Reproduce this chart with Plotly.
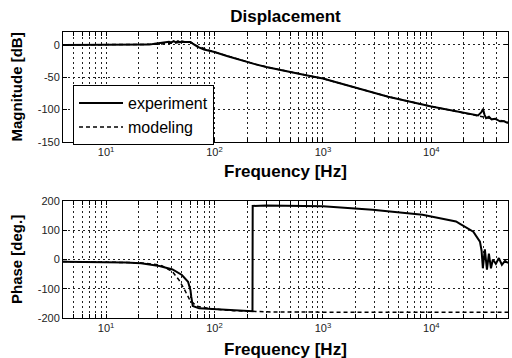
import math
import plotly.graph_objects as go

# ---------------- data ----------------
mag_exp_f = [4, 6, 10, 15, 20, 25, 28, 32, 36, 38, 40, 42, 44, 46, 48, 50, 53, 56, 60, 63, 70, 80,
             100, 130, 170, 240, 300, 484, 700, 1000, 2000, 4000, 10000, 15000, 20000, 24000, 27000,
             29000, 30000, 31000, 32000, 34000, 36000, 39000, 43000, 47000, 51000]
mag_exp_db = [0, 0, 0, 0, 0, 0.5, 2, 3, 3.5, 5, 4, 6, 4, 6, 4, 5.5, 4.5, 5, 4.5, 2, -3, -7,
              -11, -17, -23, -30, -34, -42, -47, -52, -66, -80, -95, -101, -105, -107, -109,
              -104, -99, -108, -113, -111, -115, -114, -118, -118, -121]

mag_mod_f = [4, 10, 20, 30, 40, 50, 58, 62, 70, 100, 130, 170, 240, 300, 500, 700, 1000, 2000,
             4000, 10000, 20000, 30000, 51000]
mag_mod_db = [0, 0, 0, 1, 2.5, 4, 5, 3, -2, -11, -17, -23, -30, -34, -42, -47, -52, -66,
              -80, -95, -105, -111, -119]

ph_exp_f = [4, 10, 15, 21, 31, 41, 50, 57, 60, 61, 63, 72, 128, 210, 224, 225, 300, 1000, 2870,
            8300, 16900, 18400, 21000, 24400, 28100, 29100, 29900, 31200, 32600, 34000, 35500,
            37000, 39400, 42000, 44800, 47800, 51000]
ph_exp_deg = [-8, -9, -10, -13, -22, -34, -53, -76, -105, -127, -159, -167, -172, -176, -177, 183,
              185, 182, 170, 153, 130, 122, 110, 95, 61, 30, -30, 35, -35, 20, -30,
              0, -15, 5, -18, -5, -12]

ph_mod_f = [4, 10, 20, 30, 33, 41, 47, 53, 59, 68, 90, 150, 300, 1000, 51000]
ph_mod_deg = [-7, -8, -11, -18, -22, -42, -70, -104, -138, -159, -168, -175, -179, -180, -180]

decades = [1, 2, 3, 4]
freq_range = [4, 51000]

# tick positions (log grid 1..9 x 10^n) and labels at decades
tickvals, ticktext = [], []
for n in range(0, 5):
    for k in range(1, 10):
        v = k * 10 ** n
        if freq_range[0] <= v <= freq_range[1]:
            tickvals.append(v)
            ticktext.append(f"10<sup>{n}</sup>" if (k == 1 and n in decades) else "")

FONT = "Liberation Sans, Arial, sans-serif"

fig = go.Figure()
fig.add_trace(go.Scatter(x=mag_exp_f, y=mag_exp_db, mode="lines", name="experiment",
                         line=dict(color="black", width=2), xaxis="x", yaxis="y"))
fig.add_trace(go.Scatter(x=mag_mod_f, y=mag_mod_db, mode="lines", name="modeling",
                         line=dict(color="black", width=1.5, dash="4px,3px"), xaxis="x", yaxis="y"))
fig.add_trace(go.Scatter(x=ph_exp_f, y=ph_exp_deg, mode="lines", showlegend=False,
                         line=dict(color="black", width=2), xaxis="x2", yaxis="y2"))
fig.add_trace(go.Scatter(x=ph_mod_f, y=ph_mod_deg, mode="lines", showlegend=False,
                         line=dict(color="black", width=1.5, dash="4px,3px"), xaxis="x2", yaxis="y2"))

xcommon = dict(type="log", range=[math.log10(freq_range[0]), math.log10(freq_range[1])],
               tickmode="array", tickvals=tickvals, ticktext=ticktext,
               ticks="inside", ticklen=4, tickcolor="black",
               showgrid=True, gridcolor="#222", griddash="2px,3px", gridwidth=1,
               showline=True, linecolor="black", linewidth=1, mirror="ticks",
               zeroline=False, tickfont=dict(family=FONT, size=11, color="#222"))
ycommon = dict(ticks="inside", ticklen=4, tickcolor="black",
               showgrid=True, gridcolor="#222", griddash="2px,3px", gridwidth=1,
               showline=True, linecolor="black", linewidth=1, mirror="ticks",
               zeroline=False, tickfont=dict(family=FONT, size=11, color="#222"))

fig.update_layout(
    width=512, height=358,
    margin=dict(l=63, r=4, t=32, b=40),
    paper_bgcolor="white", plot_bgcolor="white",
    font=dict(family=FONT, color="black"),
    xaxis=dict(domain=[0, 1], anchor="y", **xcommon),
    yaxis=dict(domain=[0.6154, 1], anchor="x", range=[-150, 20], tickvals=[-150, -100, -50, 0],
               ticktext=["-150", "-100", "-50", "0"], **ycommon),
    xaxis2=dict(domain=[0, 1], anchor="y2", **xcommon),
    yaxis2=dict(domain=[0, 0.4091], anchor="x2", range=[-200, 200],
                tickvals=[-200, -100, 0, 100, 200],
                ticktext=["-200", "-100", "0", "100", "200"], **ycommon),
    title=dict(text="<b>Displacement</b>", x=0.5, xref="paper", y=1 - 16 / 358, yref="container",
               xanchor="center", yanchor="middle", font=dict(family=FONT, size=17, color="black")),
    legend=dict(x=0.0225, y=0.814, xanchor="left", yanchor="top", bgcolor="white",
                bordercolor="black", borderwidth=1, font=dict(family=FONT, size=16, color="black"),
                tracegroupgap=0, itemwidth=44),
    showlegend=True,
)

ann_font = dict(family=FONT, size=17, color="black")
fig.add_annotation(text="<b>Frequency [Hz]</b>", xref="paper", yref="paper", x=0.5, y=0.6154,
                   yshift=-30, xanchor="center", yanchor="middle", showarrow=False, font=ann_font)
fig.add_annotation(text="<b>Frequency [Hz]</b>", xref="paper", yref="paper", x=0.5, y=0,
                   yshift=-31.5, xanchor="center", yanchor="middle", showarrow=False, font=ann_font)
fig.add_annotation(text="<b>Magnitude [dB]</b>", xref="paper", yref="paper", x=0, xshift=-46.5,
                   y=(0.6154 + 1) / 2, xanchor="center", yanchor="middle", textangle=-90,
                   showarrow=False, font=dict(family=FONT, size=15, color="black"))
fig.add_annotation(text="<b>Phase [deg.]</b>", xref="paper", yref="paper", x=0, xshift=-46.5,
                   y=0.4091 / 2, xanchor="center", yanchor="middle", textangle=-90,
                   showarrow=False, font=dict(family=FONT, size=15, color="black"))

fig.write_html("out.html")
